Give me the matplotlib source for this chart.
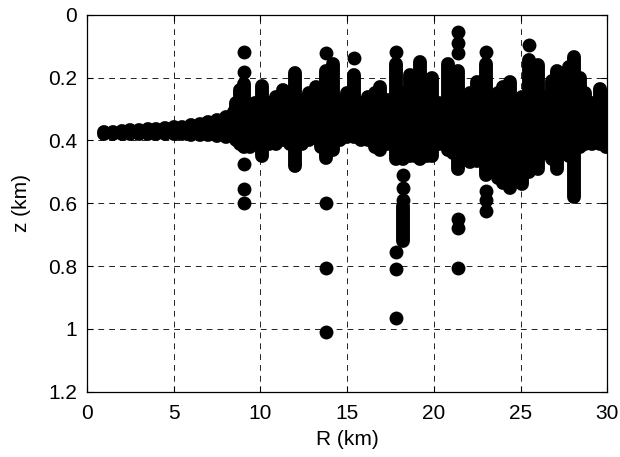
import numpy as np
import matplotlib
matplotlib.use('Agg')
import matplotlib.pyplot as plt

plt.rcParams['font.family'] = ['Liberation Sans', 'DejaVu Sans']

# vertical runs of overlapping points: range (km), top depth, bottom depth (km)
col_r = [1.0, 1.5, 2.0, 2.5, 3.0, 3.5, 4.0, 4.5, 5.0, 5.5, 6.0, 6.5, 7.0, 7.5, 8.0, 8.5,
         8.6, 8.8, 9.05, 9.4, 9.7, 10.1, 10.5, 10.9, 11.3, 11.7, 12.0, 12.4, 12.8, 13.2,
         13.5, 13.8, 14.2, 14.6, 15.0, 15.4, 15.8, 16.2, 16.6, 16.9, 17.3, 17.8, 18.2, 18.2,
         18.6, 18.9, 19.2, 19.6, 19.9, 20.3, 20.8, 21.1, 21.4, 21.8, 22.1, 22.5, 23.0, 23.4,
         23.7, 24.0, 24.4, 24.8, 25.1, 25.5, 26.0, 26.4, 26.8, 27.1, 27.5, 27.8, 28.1, 28.4,
         28.7, 29.1, 29.6, 29.9]
col_top = [0.372, 0.372, 0.370, 0.368, 0.366, 0.364, 0.362, 0.360, 0.358, 0.356, 0.352, 0.348, 0.342, 0.335, 0.325, 0.310,
           0.28, 0.24, 0.22, 0.30, 0.28, 0.225, 0.28, 0.26, 0.24, 0.25, 0.186, 0.27, 0.25, 0.23,
           0.26, 0.177, 0.155, 0.27, 0.25, 0.19, 0.28, 0.26, 0.25, 0.23, 0.27, 0.155, 0.25, 0.61,
           0.19, 0.21, 0.15, 0.22, 0.20, 0.28, 0.155, 0.27, 0.177, 0.28, 0.25, 0.215, 0.155, 0.26,
           0.25, 0.23, 0.215, 0.28, 0.26, 0.144, 0.16, 0.26, 0.21, 0.177, 0.20, 0.166, 0.134, 0.20,
           0.25, 0.28, 0.235, 0.257]
col_bot = [0.378, 0.378, 0.378, 0.378, 0.378, 0.378, 0.378, 0.378, 0.380, 0.380, 0.382, 0.382, 0.384, 0.385, 0.388, 0.390,
           0.40, 0.41, 0.42, 0.42, 0.41, 0.45, 0.41, 0.41, 0.40, 0.41, 0.48, 0.41, 0.40, 0.39,
           0.42, 0.455, 0.43, 0.40, 0.39, 0.39, 0.40, 0.40, 0.42, 0.43, 0.41, 0.46, 0.46, 0.72,
           0.45, 0.45, 0.46, 0.45, 0.45, 0.41, 0.43, 0.44, 0.49, 0.45, 0.47, 0.465, 0.51, 0.49,
           0.52, 0.535, 0.55, 0.50, 0.54, 0.50, 0.49, 0.44, 0.46, 0.49, 0.43, 0.45, 0.58, 0.42,
           0.41, 0.41, 0.41, 0.42]

# isolated points
dot_r = [9.05, 9.05, 9.05, 9.05, 9.05, 13.8, 13.8, 13.8, 13.8, 15.4,
         17.8, 17.8, 17.8, 17.8, 18.2, 18.2, 18.2,
         21.4, 21.4, 21.4, 21.4, 21.4, 21.4, 23.0, 23.0, 23.0, 23.0, 25.5]
dot_z = [0.118, 0.183, 0.475, 0.555, 0.60, 0.122, 0.60, 0.805, 1.01, 0.138,
         0.118, 0.755, 0.81, 0.965, 0.51, 0.55, 0.59,
         0.054, 0.09, 0.12, 0.65, 0.68, 0.805, 0.118, 0.56, 0.59, 0.625, 0.096]

fig = plt.figure(figsize=(6.2, 4.57), dpi=100)
ax = fig.add_axes([0.1403, 0.1433, 0.8392, 0.8239])

ax.vlines(col_r, col_top, col_bot, colors='k', linewidth=10, capstyle='round', zorder=3)
ax.plot(dot_r, dot_z, 'o', color='k', markersize=10, markeredgewidth=0, zorder=3)

ax.set_xlim(0, 30)
ax.set_ylim(1.2, 0)
ax.set_xticks([0, 5, 10, 15, 20, 25, 30])
ax.set_yticks([0, 0.2, 0.4, 0.6, 0.8, 1, 1.2])
ax.set_yticklabels(['0', '0.2', '0.4', '0.6', '0.8', '1', '1.2'])
ax.grid(True, color='k', linestyle=(0, (7, 6)), linewidth=0.6, zorder=0)
ax.set_axisbelow(True)
ax.tick_params(direction='in', length=4, width=0.8, labelsize=15, top=True, right=True)
ax.tick_params(axis='x', pad=9)
ax.tick_params(axis='y', pad=7)
for s in ax.spines.values():
    s.set_linewidth(0.9)

ax.set_xlabel('R (km)', fontsize=15, labelpad=5)
ax.set_ylabel('z (km)', fontsize=15, labelpad=12)

fig.savefig('out.png', dpi=100)
